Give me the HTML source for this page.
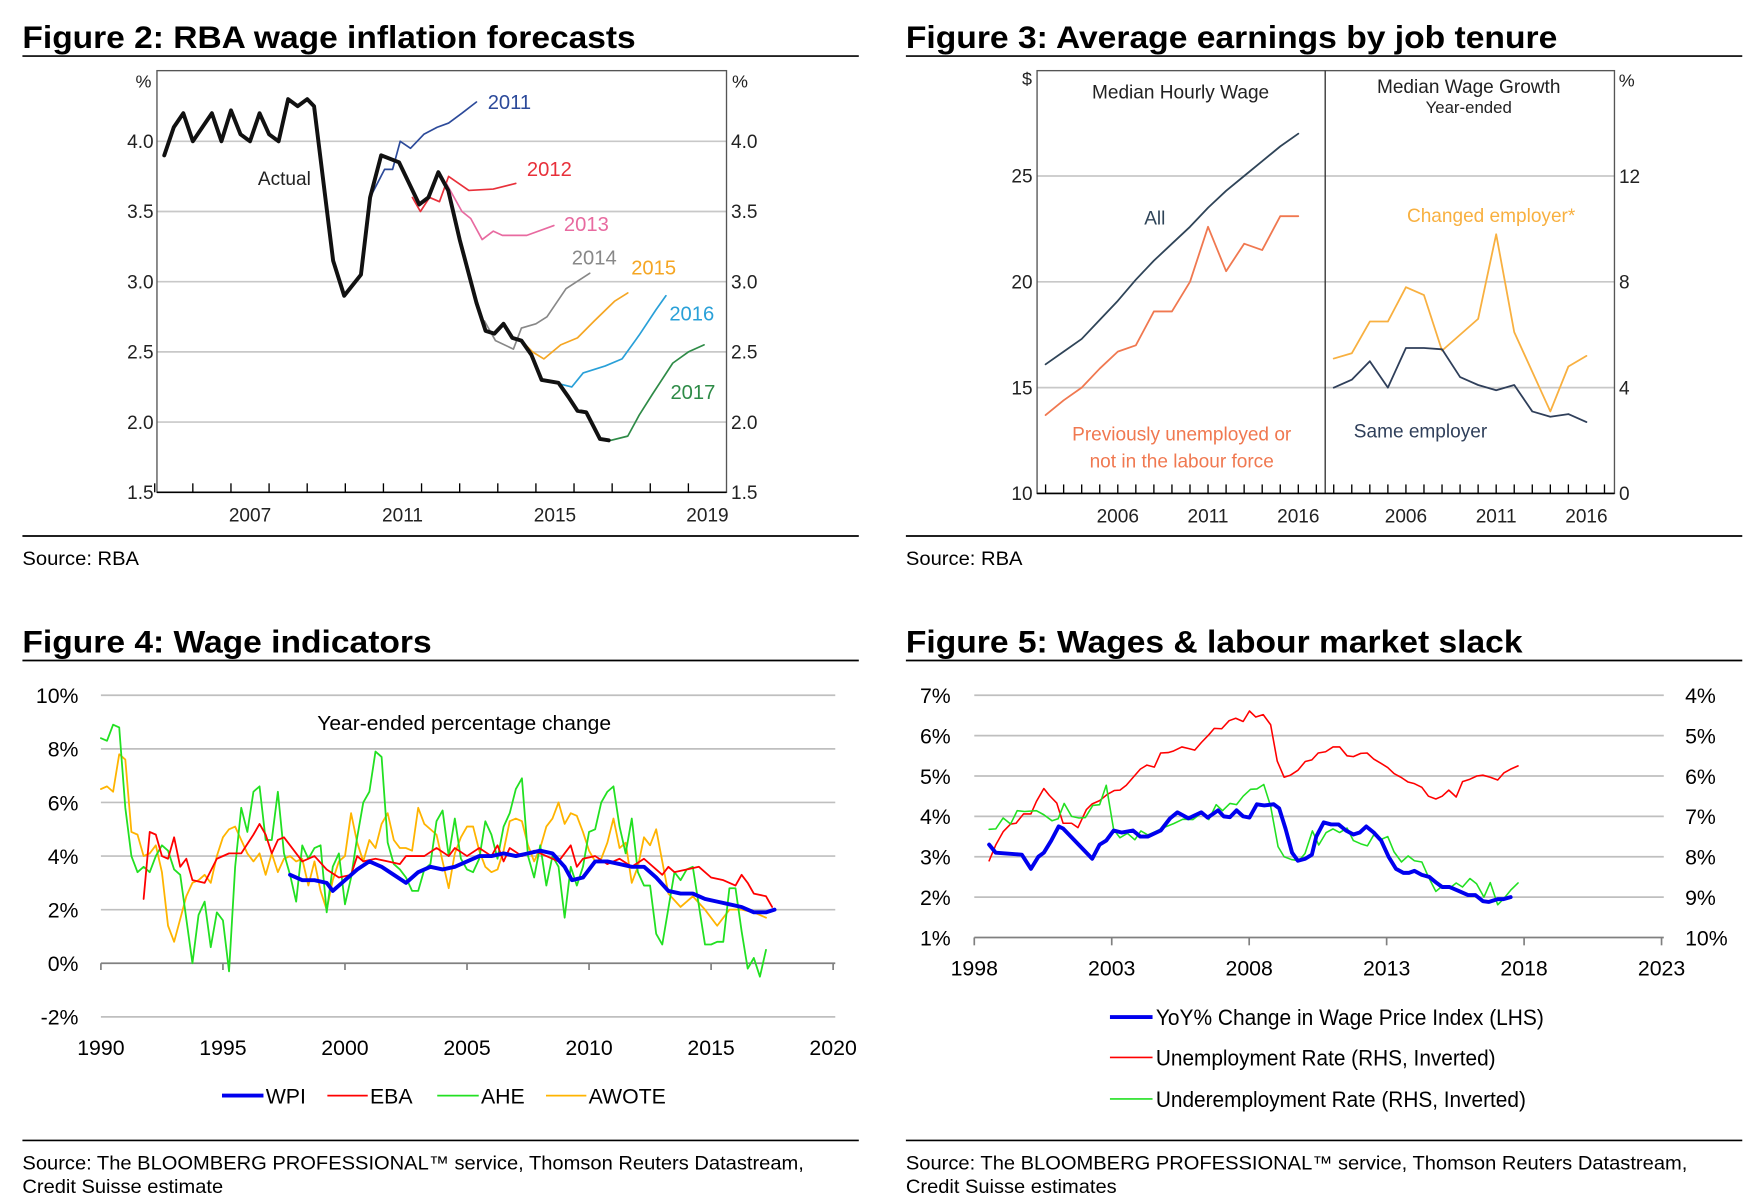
<!DOCTYPE html>
<html><head><meta charset="utf-8"><style>
html,body{margin:0;padding:0;background:#fff}
svg{display:block}
text{font-family:"Liberation Sans",Arial,sans-serif}
</style></head><body>
<svg id="root" width="1749" height="1201" viewBox="0 0 1560 1071" preserveAspectRatio="none" xmlns="http://www.w3.org/2000/svg">
<rect width="1560" height="1071" fill="#fff"/>
<g>
<text x="20" y="43" font-size="28" font-weight="bold" textLength="547" lengthAdjust="spacingAndGlyphs">Figure 2: RBA wage inflation forecasts</text>
<line x1="20" y1="50" x2="766" y2="50" stroke="#000" stroke-width="1.5"/>
<line x1="20" y1="478" x2="766" y2="478" stroke="#000" stroke-width="1.5"/>
<text x="20" y="504" font-size="17" textLength="104" lengthAdjust="spacingAndGlyphs">Source: RBA</text>
</g>
<g>
<text x="808" y="43" font-size="28" font-weight="bold" textLength="581" lengthAdjust="spacingAndGlyphs">Figure 3: Average earnings by job tenure</text>
<line x1="808" y1="50" x2="1554" y2="50" stroke="#000" stroke-width="1.5"/>
<line x1="808" y1="478" x2="1554" y2="478" stroke="#000" stroke-width="1.5"/>
<text x="808" y="504" font-size="17" textLength="104" lengthAdjust="spacingAndGlyphs">Source: RBA</text>
</g>
<g>
<text x="20" y="582" font-size="28" font-weight="bold" textLength="365" lengthAdjust="spacingAndGlyphs">Figure 4: Wage indicators</text>
<line x1="20" y1="589" x2="766" y2="589" stroke="#000" stroke-width="1.5"/>
<line x1="20" y1="1017" x2="766" y2="1017" stroke="#000" stroke-width="1.5"/>
<text x="20" y="1043" font-size="17" textLength="697" lengthAdjust="spacingAndGlyphs">Source: The BLOOMBERG PROFESSIONAL™ service, Thomson Reuters Datastream,</text>
<text x="20" y="1064" font-size="17" textLength="179" lengthAdjust="spacingAndGlyphs">Credit Suisse estimate</text>
</g>
<g>
<text x="808" y="582" font-size="28" font-weight="bold" textLength="550" lengthAdjust="spacingAndGlyphs">Figure 5: Wages &amp; labour market slack</text>
<line x1="808" y1="589" x2="1554" y2="589" stroke="#000" stroke-width="1.5"/>
<line x1="808" y1="1017" x2="1554" y2="1017" stroke="#000" stroke-width="1.5"/>
<text x="808" y="1043" font-size="17" textLength="697" lengthAdjust="spacingAndGlyphs">Source: The BLOOMBERG PROFESSIONAL™ service, Thomson Reuters Datastream,</text>
<text x="808" y="1064" font-size="17" textLength="188" lengthAdjust="spacingAndGlyphs">Credit Suisse estimates</text>
</g>
<g id="f2"></g>
<g id="f3"></g>
<g id="f4"></g>
<g id="f5"></g>
</svg>
<script>
// ===== Figure 2 data =====
const f2Ticks=[1.5,2.0,2.5,3.0,3.5,4.0];
const f2YearLabels=[2007,2011,2015,2019];
const actualYears=[2005.25,2005.5,2005.75,2006,2006.25,2006.5,2006.75,2007,2007.25,2007.5,2007.75,2008,2008.25,2008.5,2008.75,2009,2009.18,2009.68,2009.97,2010.41,2010.65,2010.94,2011.41,2011.94,2012.18,2012.44,2012.7,2013.0,2013.44,2013.68,2013.91,2014.15,2014.38,2014.62,2014.88,2015.15,2015.59,2015.85,2016.09,2016.32,2016.68,2016.91];
const actualVals=[3.9,4.1,4.2,4.0,4.1,4.2,4.0,4.22,4.05,4.0,4.2,4.05,4.0,4.3,4.25,4.3,4.25,3.15,2.9,3.05,3.6,3.9,3.85,3.55,3.6,3.78,3.65,3.3,2.85,2.65,2.63,2.7,2.6,2.58,2.48,2.3,2.28,2.18,2.08,2.07,1.88,1.87];
const fc2011Years=[2010.65,2011.03,2011.24,2011.44,2011.71,2012.06,2012.41,2012.71,2013.06,2013.44];
const fc2011Vals=[3.6,3.8,3.8,4.0,3.95,4.05,4.1,4.13,4.2,4.28];
const fc2012Years=[2011.76,2011.97,2012.21,2012.47,2012.71,2013.24,2013.88,2014.47];
const fc2012Vals=[3.6,3.5,3.6,3.57,3.75,3.65,3.66,3.7];
const fc2013Years=[2012.65,2013.06,2013.29,2013.59,2013.88,2014.12,2014.76,2015.47];
const fc2013Vals=[3.7,3.5,3.45,3.3,3.36,3.33,3.33,3.4];
const fc2014Years=[2013.65,2013.94,2014.41,2014.62,2015.0,2015.29,2015.79,2016.41];
const fc2014Vals=[2.72,2.58,2.52,2.67,2.7,2.75,2.95,3.06];
const fc2015Years=[2014.62,2014.91,2015.21,2015.65,2016.09,2016.53,2017.06,2017.41];
const fc2015Vals=[2.58,2.5,2.45,2.55,2.6,2.72,2.86,2.92];
const fc2016Years=[2015.65,2015.94,2016.24,2016.82,2017.26,2017.71,2018.15,2018.41];
const fc2016Vals=[2.27,2.25,2.35,2.4,2.45,2.62,2.8,2.9];
const fc2017Years=[2016.68,2016.97,2017.41,2017.71,2018.06,2018.59,2019.0,2019.41];
const fc2017Vals=[1.88,1.87,1.9,2.05,2.2,2.42,2.5,2.55];

// ===== Figure 3 data =====
const f3Years=[2002,2003,2004,2005,2006,2007,2008,2009,2010,2011,2012,2013,2014,2015,2016];
const allWage=[16.1,16.7,17.3,18.2,19.1,20.1,21.0,21.8,22.6,23.5,24.3,25.0,25.7,26.4,27.0];
const prevUnempWage=[13.7,14.4,15.0,15.9,16.7,17.0,18.6,18.6,20.0,22.6,20.5,21.8,21.5,23.1,23.1];
const changedEmpGrowth=[5.1,5.3,6.5,6.5,7.8,7.5,5.4,6.0,6.6,9.8,6.1,4.6,3.1,4.8,5.2];
const sameEmpGrowth=[4.0,4.3,5.0,4.0,5.5,5.5,5.45,4.4,4.1,3.9,4.1,3.1,2.9,3.0,2.7];
const f3LeftTicks=[10,15,20,25];
const f3RightTicks=[0,4,8,12];
const f3YearLabels=[2006,2011,2016];

// ===== Figure 4 data =====
const f4Ticks=[-2,0,2,4,6,8,10];
const f4YearLabels=[1990,1995,2000,2005,2010,2015,2020];
const wpiYears=[1997.75,1998.25,1998.75,1999.25,1999.5,2000,2000.5,2001,2001.5,2002,2002.5,2003,2003.5,2004,2004.5,2005,2005.5,2006,2006.5,2007,2007.5,2008,2008.5,2009,2009.3,2009.75,2010.25,2010.75,2011.25,2011.75,2012.25,2012.75,2013.25,2013.75,2014.25,2014.75,2015.25,2015.75,2016.25,2016.75,2017.25,2017.6];
const wpiVals=[3.3,3.1,3.1,3.0,2.7,3.1,3.5,3.8,3.6,3.3,3.0,3.4,3.6,3.5,3.6,3.8,4.0,4.0,4.1,4.0,4.1,4.2,4.1,3.6,3.1,3.2,3.8,3.8,3.7,3.6,3.6,3.2,2.7,2.6,2.6,2.4,2.3,2.2,2.1,1.9,1.9,2.0];
const ebaYears=[1991.75,1992,1992.25,1992.5,1992.75,1993,1993.25,1993.5,1993.75,1994.25,1994.75,1995.25,1995.75,1996.25,1996.5,1996.75,1997,1997.25,1997.5,1997.75,1998.25,1998.75,1999.25,1999.75,2000.25,2000.5,2000.75,2001.25,2001.75,2002.25,2002.5,2002.75,2003.25,2003.75,2004.25,2004.5,2005,2005.5,2006,2006.25,2006.5,2006.75,2007.25,2007.75,2008.25,2008.75,2009.25,2009.5,2009.75,2010.25,2010.75,2011.25,2011.75,2012.25,2012.75,2013,2013.25,2013.5,2014,2014.5,2015,2015.5,2016,2016.25,2016.5,2016.75,2017.25,2017.5];
const ebaVals=[2.4,4.9,4.8,4.0,3.9,4.7,3.6,3.9,3.1,3.0,3.9,4.1,4.1,4.8,5.2,4.8,4.1,4.6,4.7,4.4,3.8,4.0,3.5,3.2,3.3,4.0,3.8,3.9,3.8,3.7,4.0,4.0,4.0,4.3,4.0,4.3,4.0,4.3,4.0,4.4,3.8,4.3,4.0,4.2,4.0,3.8,4.4,3.6,3.9,4.0,3.7,3.9,3.6,3.9,3.5,3.3,3.6,3.4,3.5,3.6,3.2,3.1,2.9,3.3,3.0,2.6,2.5,2.1];
const aheYears=[1990,1990.25,1990.5,1990.75,1991,1991.25,1991.5,1991.75,1992,1992.25,1992.5,1992.75,1993,1993.25,1993.75,1994,1994.25,1994.5,1994.75,1995,1995.25,1995.5,1995.75,1996,1996.25,1996.5,1996.75,1997,1997.25,1997.5,1997.75,1998,1998.25,1998.5,1998.75,1999,1999.25,1999.5,1999.75,2000,2000.25,2000.5,2000.75,2001,2001.25,2001.5,2001.75,2002,2002.25,2002.5,2002.75,2003,2003.25,2003.5,2003.75,2004,2004.25,2004.5,2004.75,2005,2005.25,2005.5,2005.75,2006,2006.25,2006.5,2006.75,2007,2007.25,2007.5,2007.75,2008,2008.25,2008.5,2008.75,2009,2009.25,2009.5,2009.75,2010,2010.25,2010.5,2010.75,2011,2011.25,2011.5,2011.75,2012,2012.25,2012.5,2012.75,2013,2013.5,2013.75,2014,2014.25,2014.75,2015,2015.25,2015.5,2015.75,2016,2016.25,2016.5,2016.75,2017,2017.25];
const aheVals=[8.4,8.3,8.9,8.8,5.8,4.0,3.4,3.6,3.4,4.0,4.4,4.2,3.5,3.3,0.0,1.8,2.3,0.6,1.9,1.6,-0.3,3.6,5.8,4.9,6.4,6.6,4.6,4.6,6.4,4.1,3.3,2.3,4.4,3.9,4.3,4.4,1.9,3.6,4.1,2.2,3.2,4.7,6.0,6.4,7.9,7.7,4.5,3.7,3.5,3.2,2.7,2.7,3.5,3.7,5.3,5.7,4.0,5.4,3.9,3.5,3.4,3.9,5.3,4.8,3.9,5.1,5.6,6.5,6.9,4.0,3.2,4.4,2.9,4.0,3.6,1.7,3.6,2.9,3.6,4.9,5.0,6.0,6.4,6.6,5.1,4.1,5.4,3.4,2.9,2.9,1.1,0.7,3.4,3.1,3.5,3.6,0.7,0.7,0.8,0.8,2.8,2.8,1.2,-0.2,0.2,-0.5,0.5];
const awoteYears=[1990,1990.25,1990.5,1990.75,1991,1991.25,1991.5,1991.75,1992,1992.25,1992.5,1992.75,1993,1993.5,1993.75,1994,1994.25,1994.5,1994.75,1995,1995.25,1995.5,1995.75,1996,1996.25,1996.5,1996.75,1997,1997.25,1997.5,1997.75,1998,1998.25,1998.5,1998.75,1999,1999.25,1999.5,1999.75,2000,2000.25,2000.5,2000.75,2001,2001.25,2001.5,2001.75,2002,2002.25,2002.5,2002.75,2003,2003.25,2003.5,2003.75,2004,2004.25,2004.5,2004.75,2005,2005.25,2005.5,2005.75,2006,2006.25,2006.5,2006.75,2007,2007.25,2007.5,2007.75,2008,2008.25,2008.5,2008.75,2009,2009.25,2009.5,2009.75,2010,2010.25,2010.5,2010.75,2011,2011.25,2011.5,2011.75,2012,2012.25,2012.5,2012.75,2013,2013.25,2013.75,2014.25,2014.75,2015.25,2015.75,2016.25,2016.75,2017.25];
const awoteVals=[6.5,6.6,6.4,7.8,7.6,4.9,4.8,4.0,4.1,4.4,3.4,1.4,0.8,2.5,3.0,3.1,3.3,3.0,4.0,4.7,5.0,5.1,4.6,4.1,3.8,4.1,3.3,4.1,3.4,3.9,4.0,3.8,3.9,2.9,3.8,2.7,2.0,3.1,3.8,4.0,5.6,4.5,3.8,4.6,4.3,5.2,5.6,4.6,4.3,4.3,4.2,5.8,5.2,5.0,4.8,3.8,2.8,4.1,4.7,5.1,5.1,4.2,3.6,3.4,3.5,4.2,5.3,5.4,5.3,4.4,3.8,4.3,5.1,5.4,6.0,5.2,5.6,5.5,4.9,4.2,3.8,3.9,4.5,5.4,4.3,4.5,3.0,3.6,4.7,4.4,5.0,3.8,2.6,2.1,2.5,2.0,1.4,2.0,2.0,1.9,1.7];

// ===== Figure 5 data =====
const f5LeftTicks=[1,2,3,4,5,6,7];
const f5RightTicks=[10,9,8,7,6,5,4];
const f5YearLabels=[1998,2003,2008,2013,2018,2023];
const wpi5Years=[1998.54,1998.78,1999.73,2000.06,2000.33,2000.53,2000.8,2001.07,2001.23,2002.29,2002.56,2002.8,2003.07,2003.36,2003.77,2004.04,2004.31,2004.78,2005.12,2005.39,2005.79,2006.26,2006.49,2006.87,2007.07,2007.3,2007.54,2007.78,2008.01,2008.28,2008.55,2008.89,2009.09,2009.32,2009.56,2009.77,2010.04,2010.28,2010.44,2010.71,2010.98,2011.25,2011.52,2011.79,2012.02,2012.26,2012.53,2012.8,2013.07,2013.34,2013.61,2013.81,2014.01,2014.28,2014.55,2014.82,2015.02,2015.29,2015.63,2015.96,2016.23,2016.5,2016.71,2017.04,2017.25,2017.51];
const wpi5Vals=[3.3,3.1,3.05,2.7,3.0,3.1,3.4,3.75,3.7,2.95,3.3,3.4,3.65,3.6,3.65,3.5,3.5,3.65,3.95,4.1,3.95,4.1,3.97,4.15,4.0,3.98,4.15,4.0,3.97,4.3,4.27,4.3,4.2,3.7,3.1,2.9,2.95,3.05,3.5,3.85,3.8,3.8,3.65,3.55,3.6,3.75,3.6,3.4,3.0,2.7,2.6,2.6,2.65,2.55,2.5,2.35,2.25,2.25,2.15,2.05,2.05,1.9,1.88,1.95,1.95,2.0];
const unempYears=[1998.54,1998.78,1999.05,1999.32,1999.52,1999.79,2000.06,2000.26,2000.53,2000.73,2001.0,2001.23,2001.54,2001.77,2002.08,2002.29,2002.56,2002.83,2003.09,2003.3,2003.53,2003.77,2004.04,2004.28,2004.55,2004.78,2005.05,2005.25,2005.55,2005.79,2006.02,2006.26,2006.53,2006.73,2007.0,2007.27,2007.51,2007.78,2008.01,2008.24,2008.51,2008.78,2009.02,2009.27,2009.5,2009.77,2010.04,2010.28,2010.51,2010.78,2011.05,2011.29,2011.56,2011.79,2012.06,2012.29,2012.53,2012.8,2013.04,2013.27,2013.54,2013.78,2014.01,2014.28,2014.52,2014.79,2015.02,2015.26,2015.53,2015.76,2016.03,2016.28,2016.5,2016.77,2017.04,2017.27,2017.51,2017.78];
const unempVals=[8.1,7.71,7.38,7.19,7.17,6.94,6.94,6.63,6.31,6.48,6.67,7.17,7.17,7.28,6.83,6.69,6.61,6.46,6.36,6.35,6.23,6.04,5.83,5.73,5.78,5.43,5.42,5.38,5.28,5.32,5.36,5.17,4.98,4.82,4.83,4.63,4.57,4.65,4.39,4.54,4.48,4.73,5.63,6.03,5.98,5.86,5.64,5.6,5.43,5.4,5.28,5.28,5.5,5.52,5.44,5.43,5.58,5.69,5.79,5.94,6.04,6.15,6.19,6.28,6.5,6.57,6.5,6.35,6.52,6.14,6.08,6.0,5.98,6.03,6.1,5.92,5.83,5.75];
const underYears=[1998.54,1998.78,1999.05,1999.32,1999.56,1999.83,2000.26,2000.53,2000.83,2001.05,2001.27,2001.54,2001.81,2002.04,2002.31,2002.56,2002.8,2003.07,2003.3,2003.57,2003.84,2004.06,2004.31,2004.58,2004.85,2005.25,2005.59,2005.95,2006.26,2006.53,2006.8,2007.03,2007.3,2007.54,2007.78,2008.05,2008.28,2008.53,2008.78,2009.05,2009.27,2009.54,2009.81,2010.03,2010.3,2010.53,2010.8,2011.05,2011.29,2011.56,2011.79,2012.06,2012.3,2012.53,2012.8,2013.04,2013.27,2013.54,2013.78,2014.01,2014.28,2014.52,2014.79,2015.02,2015.29,2015.53,2015.76,2016.03,2016.27,2016.54,2016.77,2017.04,2017.27,2017.51,2017.78];
const underVals=[7.32,7.31,7.04,7.19,6.86,6.88,6.86,6.96,7.11,7.06,6.68,7.0,7.04,7.03,6.73,6.71,6.23,7.33,7.53,7.42,7.58,7.36,7.46,7.38,7.29,7.18,7.07,7.08,6.92,7.08,6.71,6.86,6.68,6.71,6.5,6.33,6.32,6.21,6.75,7.75,8.0,8.07,8.1,7.92,7.36,7.71,7.4,7.31,7.4,7.29,7.6,7.68,7.73,7.46,7.57,7.5,7.88,8.13,7.98,8.1,8.13,8.5,8.86,8.73,8.78,8.65,8.75,8.54,8.67,9.0,8.64,9.19,9.03,8.83,8.65];

const NS='http://www.w3.org/2000/svg';
function mk(parent,tag,attrs){const e=document.createElementNS(NS,tag);for(const k in attrs)e.setAttribute(k,attrs[k]);parent.appendChild(e);return e;}
function txt(parent,x,y,s,size,color,anchor,extra){const e=mk(parent,'text',Object.assign({x:x,y:y,'font-size':size,fill:color||'#000','text-anchor':anchor||'start'},extra||{}));e.textContent=s;return e;}
function poly(parent,xs,ys,fx,fy,color,w){const d=xs.map((v,i)=>(i?'L':'M')+fx(v).toFixed(2)+','+fy(ys[i]).toFixed(2)).join('');return mk(parent,'path',{d:d,fill:'none',stroke:color,'stroke-width':w,'stroke-linejoin':'round','stroke-linecap':'round'});}

// ---------- Figure 2 ----------
(function(){
const g=document.getElementById('f2');
const L=140,R=648,T=63,B=439;
const x=t=>206+(t-2007)*34;
const y=v=>439-(v-1.5)*125.2;
f2Ticks.forEach(v=>{
 if(v>1.5){const gl=mk(g,'line',{x1:L,x2:R,y1:y(v),y2:y(v),stroke:'#c8c8c8','stroke-width':1.5});
 
 }
 const a=txt(g,137,y(v)+6,v.toFixed(1),17,'#222','end');
 
 
 const b=txt(g,652,y(v)+6,v.toFixed(1),17,'#222','start');
 
 
});
const fr=mk(g,'rect',{x:L,y:T,width:R-L,height:B-T,fill:'none',stroke:'#555','stroke-width':1.2});


mk(g,'line',{x1:L,x2:R,y1:B,y2:B,stroke:'#000','stroke-width':1.5});
for(let yr=2005;yr<=2019;yr++){const t=mk(g,'line',{x1:x(yr),x2:x(yr),y1:B,y2:B-8,stroke:'#000','stroke-width':1.2});
 
 }
f2YearLabels.forEach(yr=>{const e=txt(g,x(yr+0.5),465,String(yr),17,'#222','middle');
 
 });
const p1=txt(g,128,78,'%',16,'#222','middle');


const p2=txt(g,660,78,'%',16,'#222','middle');


const series=[[fc2011Years,fc2011Vals,'#2c4a9a','2011',435,97],[fc2012Years,fc2012Vals,'#e8303a','2012',470,157],[fc2013Years,fc2013Vals,'#e86aa0','2013',503,206],[fc2014Years,fc2014Vals,'#888','2014',510,236],[fc2015Years,fc2015Vals,'#f5a623','2015',563,245],[fc2016Years,fc2016Vals,'#29a0d8','2016',597,286],[fc2017Years,fc2017Vals,'#2e8b47','2017',598,356]];
series.forEach(s=>{const p=poly(g,s[0],s[1],x,y,s[2],1.5);
 
 
 const l=txt(g,s[4],s[5],s[3],18,s[2],'start');
 
 });
const a=poly(g,actualYears,actualVals,x,y,'#111',3.5);


const al=txt(g,230,165,'Actual',17,'#222','start');


})();

// ---------- Figure 3 ----------
(function(){
const g=document.getElementById('f3');
const L=925,M=1182,R=1440,T=63,B=440;
const xl=t=>997+(t-2006)*16.1;
const xr=t=>1254+(t-2006)*16.1;
const yl=v=>440-(v-10)*18.87;
const yr=v=>440-v*23.58;
f3LeftTicks.forEach(v=>{
 if(v>10){const gl=mk(g,'line',{x1:L,x2:R,y1:yl(v),y2:yl(v),stroke:'#c8c8c8','stroke-width':1.5});
 
 }
 const e=txt(g,921,yl(v)+6,String(v),17,'#222','end');
 
 });
f3RightTicks.forEach(v=>{const e=txt(g,1444,yr(v)+6,String(v),17,'#222','start');
 
 });
const fr=mk(g,'rect',{x:L,y:T,width:R-L,height:B-T,fill:'none',stroke:'#555','stroke-width':1.2});


const dv=mk(g,'line',{x1:M,x2:M,y1:T,y2:B,stroke:'#333','stroke-width':1.2});


mk(g,'line',{x1:L,x2:R,y1:B,y2:B,stroke:'#000','stroke-width':1.5});
for(let t=2002;t<=2017;t++){[xl(t),xr(t)].forEach(px=>{const k=mk(g,'line',{x1:px,x2:px,y1:B,y2:B-8,stroke:'#000','stroke-width':1.2});
 
 });}
f3YearLabels.forEach(t=>{[xl(t),xr(t)].forEach(px=>{const e=txt(g,px,466,String(t),17,'#222','middle');
 
 });});
const u1=txt(g,916,76,'$',16,'#222','middle');


const u2=txt(g,1451,77,'%',16,'#222','middle');


const p1=poly(g,f3Years,allWage,xl,yl,'#2f4458',1.6);


const p2=poly(g,f3Years,prevUnempWage,xl,yl,'#f07850',1.6);


const p3=poly(g,f3Years,changedEmpGrowth,xr,yr,'#f8b040',1.6);


const p4=poly(g,f3Years,sameEmpGrowth,xr,yr,'#2f3f5a',1.6);


const labels=[[1053,88,'Median Hourly Wage','#222','panel-title-left'],[1310,83,'Median Wage Growth','#222','panel-title-right'],[1310,101,'Year-ended','#222','panel-subtitle-right'],[1030,200,'All','#2f4458','all-label'],[1330,198,'Changed employer*','#f8b040','changed-employer-label'],[1054,393,'Previously unemployed or','#f07850','previously-unemployed-label'],[1054,417,'not in the labour force','#f07850','previously-unemployed-label-2'],[1267,390,'Same employer','#2f3f5a','same-employer-label']];
labels.forEach(l=>{const e=txt(g,l[0],l[1],l[2],l[2]==='Year-ended'?15:17,l[3],'middle');
 
 });
})();

// ---------- Figure 4 ----------
(function(){
const g=document.getElementById('f4');
const L=90,R=745;
const x=t=>90+(t-1990)*21.77;
const y=v=>859-v*23.9;
f4Ticks.forEach(v=>{
 if(v!==0){const gl=mk(g,'line',{x1:L,x2:R,y1:y(v),y2:y(v),stroke:'#bfbfbf','stroke-width':1.5});
 
 }
 const e=txt(g,70,y(v)+7,v+'%',19,'#000','end');
 
 });
const ax=mk(g,'line',{x1:L,x2:R,y1:y(0),y2:y(0),stroke:'#808080','stroke-width':1.5});


f4YearLabels.forEach(t=>{const k=mk(g,'line',{x1:x(t),x2:x(t),y1:y(0),y2:y(0)+6,stroke:'#808080','stroke-width':1.5});
 
 
 const e=txt(g,x(t),941,String(t),19,'#000','middle');
 
 });
const st=txt(g,414,651,'Year-ended percentage change',18,'#000','middle',{textLength:262,lengthAdjust:'spacingAndGlyphs'});


const s1=poly(g,awoteYears,awoteVals,x,y,'#ffb400',1.6);


const s2=poly(g,aheYears,aheVals,x,y,'#22e022',1.6);


const s3=poly(g,ebaYears,ebaVals,x,y,'#ff0000',1.6);


const s4=poly(g,wpiYears,wpiVals,x,y,'#0000ee',3.5);


const leg=[[198,235,'WPI','#0000ee',3.5,'legend-wpi'],[292,328,'EBA','#ff0000',1.6,'legend-eba'],[390,427,'AHE','#22e022',1.6,'legend-ahe'],[487,523,'AWOTE','#ffb400',1.6,'legend-awote']];
leg.forEach(l=>{const gg=mk(g,'g',{});
 
 
 mk(gg,'line',{x1:l[0],x2:l[1],y1:977,y2:977,stroke:l[3],'stroke-width':l[4]});
 txt(gg,l[1]+2,984,l[2],19,'#000','start');});
})();

// ---------- Figure 5 ----------
(function(){
const g=document.getElementById('f5');
const L=869,R=1484;
const x=t=>869+(t-1998)*24.52;
const yl=v=>836-(v-1)*36;
const yr=v=>620+(v-4)*36;
f5LeftTicks.forEach(v=>{
 if(v>1){const gl=mk(g,'line',{x1:L,x2:R,y1:yl(v),y2:yl(v),stroke:'#bfbfbf','stroke-width':1.5});
 
 }
 const e=txt(g,848,yl(v)+7,v+'%',19,'#000','end');
 
 });
f5RightTicks.forEach(v=>{const e=txt(g,1503,yr(v)+7,v+'%',19,'#000','start');
 
 });
const ax=mk(g,'line',{x1:L,x2:R,y1:836,y2:836,stroke:'#808080','stroke-width':1.5});


f5YearLabels.forEach(t=>{const k=mk(g,'line',{x1:x(t),x2:x(t),y1:836,y2:843,stroke:'#808080','stroke-width':1.5});
 
 
 const e=txt(g,x(t),870,String(t),19,'#000','middle');
 
 });
const s1=poly(g,unempYears,unempVals,x,yr,'#ff0000',1.4);


const s2=poly(g,underYears,underVals,x,yr,'#22e022',1.4);


const s3=poly(g,wpi5Years,wpi5Vals,x,yl,'#0000ee',3.5);


const leg=[[907,'YoY% Change in Wage Price Index (LHS)','#0000ee',3.5,346,'legend-wpi'],[943,'Unemployment Rate (RHS, Inverted)','#ff0000',1.4,303,'legend-unemployment'],[980,'Underemployment Rate (RHS, Inverted)','#22e022',1.4,330,'legend-underemployment']];
leg.forEach(l=>{const gg=mk(g,'g',{});
 
 
 mk(gg,'line',{x1:990,x2:1028,y1:l[0],y2:l[0],stroke:l[2],'stroke-width':l[3]});
 txt(gg,1031,l[0]+7,l[1],20,'#000','start',{textLength:l[4],lengthAdjust:'spacingAndGlyphs'});});
})();
</script>
</body></html>
